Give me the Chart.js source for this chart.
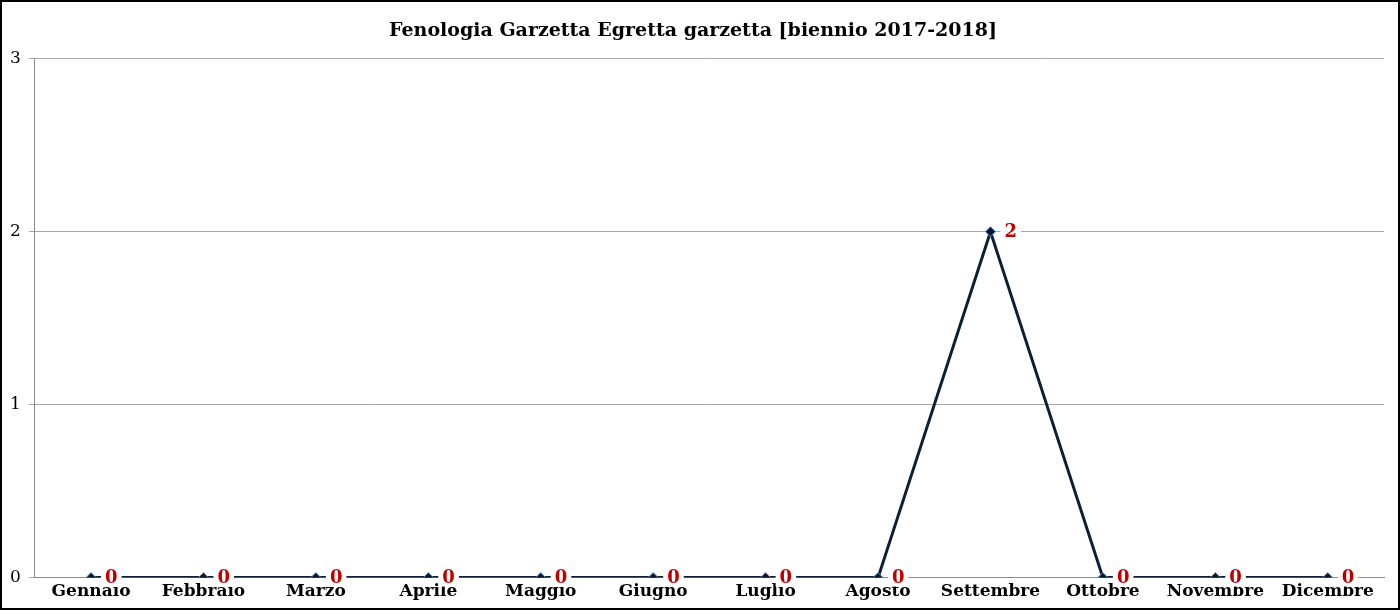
<!DOCTYPE html>
<html><head><meta charset="utf-8">
<script src="https://cdn.jsdelivr.net/npm/chart.js@4"></script>
<style>
html,body{margin:0;padding:0;background:#fff;}
#wrap{position:relative;width:1396px;height:606px;border:2px solid #000;}
</style></head>
<body><div id="wrap"><canvas id="c"></canvas></div>
<script>
// Dati fenologia
const MESI = ['Gennaio','Febbraio','Marzo','Aprile','Maggio','Giugno','Luglio','Agosto','Settembre','Ottobre','Novembre','Dicembre'];
const VALORI = [0, 0, 0, 0, 0, 0, 0, 0, 2, 0, 0, 0];
const Y_TICKS = [0, 1, 2, 3];

const SERIF = '"DejaVu Serif", "Liberation Serif", serif';

// etichette valore rosse a destra dei punti
const valueLabels = {
  id: 'valueLabels',
  afterDatasetsDraw(chart) {
    const ctx = chart.ctx;
    const meta = chart.getDatasetMeta(0);
    ctx.save();
    ctx.font = 'bold 18px ' + SERIF;
    ctx.textBaseline = 'middle';
    meta.data.forEach((pt, i) => {
      const txt = String(VALORI[i]);
      const w = ctx.measureText(txt).width;
      const x = pt.x + 14;
      ctx.fillStyle = '#fff';
      ctx.fillRect(x - 4, pt.y - 9, w + 8, 18);
      ctx.fillStyle = '#c00000';
      ctx.fillText(txt, x, pt.y + 1);
    });
    ctx.restore();
  }
};

new Chart(document.getElementById('c'), {
  type: 'line',
  data: {
    labels: MESI,
    datasets: [{
      data: VALORI,
      borderColor: '#0f1f33',
      borderWidth: 3,
      tension: 0,
      pointStyle: 'rectRot',
      pointRadius: 5,
      pointBackgroundColor: '#0b1526',
      pointBorderColor: '#5b8fd0',
      pointBorderWidth: 1
    }]
  },
  options: {
    responsive: true,
    maintainAspectRatio: false,
    animation: false,
    layout: { padding: { left: 0, right: 14, top: 0, bottom: 2 } },
    plugins: {
      legend: { display: false },
      tooltip: { enabled: false },
      title: {
        display: true,
        text: 'Fenologia Garzetta Egretta garzetta [biennio 2017-2018]',
        color: '#000',
        font: { family: SERIF, size: 19, weight: 'bold' },
        padding: { top: 18, bottom: 16 }
      }
    },
    scales: {
      x: {
        offset: true,
        grid: { display: false, drawTicks: false },
        border: { color: '#888', width: 1 },
        ticks: { color: '#000', font: { family: SERIF, size: 17, weight: 'bold' }, padding: 4, maxRotation: 0, autoSkip: false }
      },
      y: {
        min: 0, max: 3,
        afterBuildTicks: ax => { ax.ticks = Y_TICKS.map(v => ({ value: v })); },
        grid: { color: '#a6a6a6', lineWidth: 1, drawTicks: true, tickLength: 6 },
        border: { color: '#888', width: 1 },
        ticks: { color: '#000', font: { family: SERIF, size: 17 }, padding: 8 }
      }
    }
  },
  plugins: [valueLabels]
});
</script></body></html>
